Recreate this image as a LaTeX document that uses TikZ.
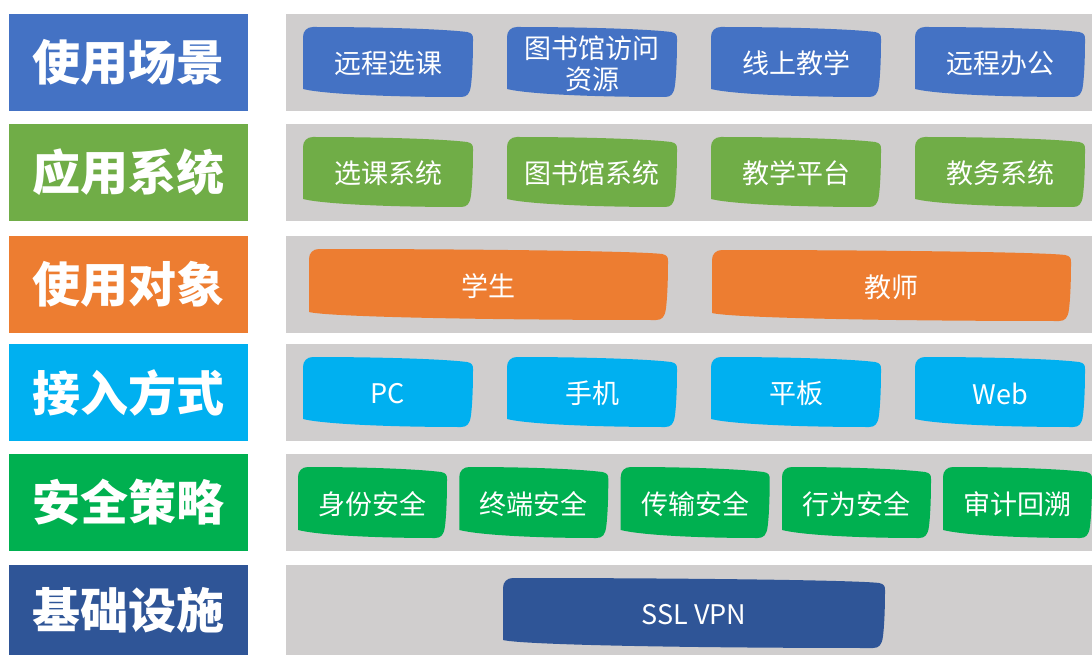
\documentclass[tikz,border=0pt]{standalone}
\usepackage{fontspec}
\setmainfont{Noto Sans CJK SC}
\newfontfamily\cjk{Noto Sans CJK SC}
\definecolor{cA}{HTML}{4472C4}
\definecolor{cB}{HTML}{70AD47}
\definecolor{cC}{HTML}{ED7D31}
\definecolor{cD}{HTML}{00B0F0}
\definecolor{cE}{HTML}{00B050}
\definecolor{cF}{HTML}{2F5597}
\definecolor{panel}{HTML}{D0CECE}
\tikzset{
  lab/.style={inner sep=0pt, minimum width=239pt, minimum height=97pt, text=white, font=\cjk\bfseries\fontsize{48}{50}\selectfont},
  boxtext/.style={inner sep=0pt, text=white, align=center, font=\cjk\fontsize{27}{31}\selectfont},
  panelbox/.style={fill=panel, draw=none}
}
\newcommand\bbox[7]{%
 \begin{scope}[shift={(#1,#2)}]
  \fill[#5] (0,10) .. controls (0,4) and (4,0) .. (10,0)
    .. controls ({0.45*#3},0) and ({#3-30},2) .. ({#3-6},5)
    .. controls ({#3-1},6) and (#3,8) .. (#3,12)
    .. controls (#3,{0.5*#4}) and ({#3-1},{#4-20}) .. ({#3-2},{#4-12})
    .. controls ({#3-3},{#4-3}) and ({#3-6},#4) .. ({#3-12},#4)
    .. controls ({0.5*#3},#4) and (20,{#4-3}) .. (0,{#4-8}) -- cycle;
  \node[boxtext] (#6) at ({#3/2},{#4/2+1.5}) {#7};
 \end{scope}}
\begin{document}
\begin{tikzpicture}[x=1pt,y=-1pt]
\useasboundingbox (0,0) rectangle (1092,655);
% left labels
\node[lab, fill=cA] (l1) at (128.5,62.5) {使用场景};
\node[lab, fill=cB] (l2) at (128.5,172.5) {应用系统};
\node[lab, fill=cC] (l3) at (128.5,284.5) {使用对象};
\node[lab, fill=cD] (l4) at (128.5,392.5) {接入方式};
\node[lab, fill=cE] (l5) at (128.5,502.5) {安全策略};
\node[lab, fill=cF, minimum height=90pt] (l6) at (128.5,610) {基础设施};
% panels
\fill[panelbox] (286,14) rectangle (1092,111);
\fill[panelbox] (286,124) rectangle (1092,221);
\fill[panelbox] (286,236) rectangle (1092,333);
\fill[panelbox] (286,344) rectangle (1092,441);
\fill[panelbox] (286,454) rectangle (1092,551);
\fill[panelbox] (286,565) rectangle (1092,655);
% row 1
\bbox{303}{27}{170}{70}{cA}{a1}{远程选课}
\bbox{507}{27}{170}{70}{cA}{a2}{图书馆访问\\资源}
\bbox{711}{27}{170}{70}{cA}{a3}{线上教学}
\bbox{915}{27}{170}{70}{cA}{a4}{远程办公}
% row 2
\bbox{303}{137}{170}{70}{cB}{b1}{选课系统}
\bbox{507}{137}{170}{70}{cB}{b2}{图书馆系统}
\bbox{711}{137}{170}{70}{cB}{b3}{教学平台}
\bbox{915}{137}{170}{70}{cB}{b4}{教务系统}
% row 3
\bbox{309}{249}{359}{71}{cC}{c1}{学生}
\bbox{712}{250}{359}{71}{cC}{c2}{教师}
% row 4
\bbox{303}{357}{170}{70}{cD}{d1}{PC}
\bbox{507}{357}{170}{70}{cD}{d2}{手机}
\bbox{711}{357}{170}{70}{cD}{d3}{平板}
\bbox{915}{357}{170}{70}{cD}{d4}{Web}
% row 5
\bbox{298}{467}{149}{71}{cE}{e1}{身份安全}
\bbox{459.3}{467}{149}{71}{cE}{e2}{终端安全}
\bbox{620.7}{467}{149}{71}{cE}{e3}{传输安全}
\bbox{782}{467}{149}{71}{cE}{e4}{行为安全}
\bbox{943}{467}{149}{71}{cE}{e5}{审计回溯}
% row 6
\bbox{503}{578}{382}{70}{cF}{f1}{SSL VPN}
\end{tikzpicture}
\end{document}
